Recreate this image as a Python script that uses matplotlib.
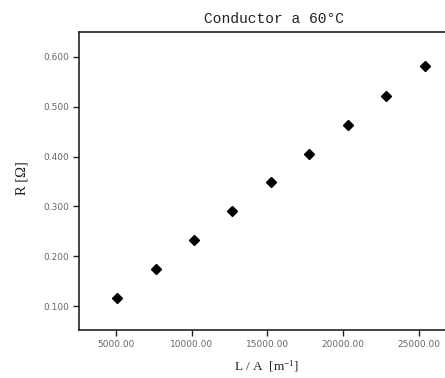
import matplotlib
matplotlib.use("Agg")
import matplotlib.pyplot as plt
from matplotlib.ticker import FormatStrFormatter

# L/A values [1/m] and resistance [ohm]
la = [5080, 7620, 10150, 12690, 15230, 17770, 20310, 22850, 25390]
r = [0.117, 0.174, 0.233, 0.291, 0.348, 0.405, 0.464, 0.522, 0.582]
xticks = [5000, 10000, 15000, 20000, 25000]
yticks = [0.1, 0.2, 0.3, 0.4, 0.5, 0.6]

plt.rcParams['mathtext.default'] = 'regular'

fig = plt.figure(figsize=(4.45, 3.78), dpi=100)
# axes runs a bit past the right edge, like the cropped original
ax = fig.add_axes([79/445, 48/378, (460-79)/445, 298/378])

ax.plot(la, r, linestyle='none', marker='D', markersize=4.6, color='black')

ax.set_xlim(2556, 27710)
ax.set_ylim(0.052, 0.650)
ax.set_xticks(xticks)
ax.set_yticks(yticks)
ax.xaxis.set_major_formatter(FormatStrFormatter('%.2f'))
ax.yaxis.set_major_formatter(FormatStrFormatter('%.3f'))
ax.tick_params(direction='out', length=4, width=1, labelsize=6.5,
               labelcolor='#666666', color='#222222', pad=3)
for s in ax.spines.values():
    s.set_linewidth(1.2)
    s.set_color('#222222')

fig.text(274/445, 1 - 19/378, 'Conductor a 60°C', family='Liberation Mono',
         fontsize=10.5, ha='center', va='center', color='#222222')
ax.set_xlabel('L / A  [m$^{-1}$]', family='Liberation Serif', fontsize=9.5,
              color='#222222', va='center')
ax.xaxis.set_label_coords((266 - 79) / 381, (330 - 366) / 298)
ax.set_ylabel('R [Ω]', family='Liberation Serif', fontsize=10.5,
              color='#222222', va='center')
ax.yaxis.set_label_coords((22 - 79) / 381, (330 - 178) / 298)

fig.savefig('out.png', dpi=100)
